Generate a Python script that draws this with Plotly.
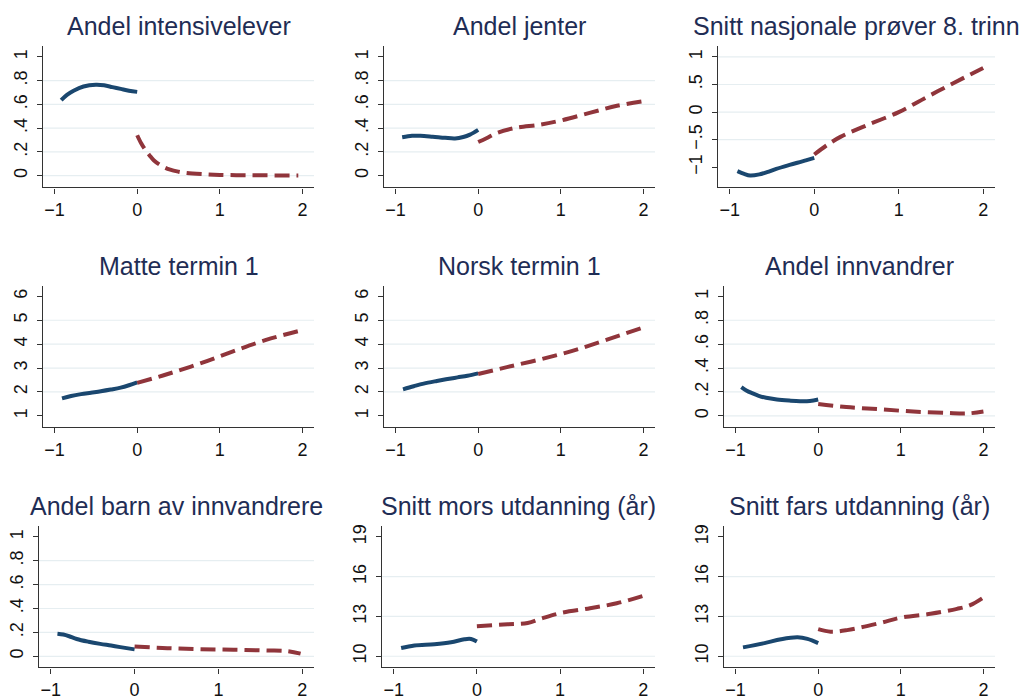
import plotly.graph_objects as go

W, H = 1022, 700

titles = ["Andel intensivelever", "Andel jenter", "Snitt nasjonale prøver 8. trinn",
          "Matte termin 1", "Norsk termin 1", "Andel innvandrer",
          "Andel barn av innvandrere", "Snitt mors utdanning (år)", "Snitt fars utdanning (år)"]

# ---- data ----
p1_x_pre = [-0.92, -0.85, -0.77, -0.65, -0.5, -0.4, -0.3, -0.2, -0.1, 0]
p1_y_pre = [0.635, 0.68, 0.715, 0.75, 0.765, 0.76, 0.745, 0.73, 0.715, 0.705]
p1_x_post = [0, 0.05, 0.1, 0.15, 0.2, 0.3, 0.4, 0.5, 0.6, 0.8, 1.0, 1.3, 1.6, 1.95]
p1_y_post = [0.34, 0.27, 0.215, 0.17, 0.13, 0.08, 0.05, 0.033, 0.022, 0.012, 0.006, 0.003, 0.002, 0.001]

p2_x_pre = [-0.92, -0.8, -0.7, -0.55, -0.4, -0.28, -0.18, -0.1, 0]
p2_y_pre = [0.323, 0.335, 0.336, 0.328, 0.318, 0.313, 0.325, 0.345, 0.385]
p2_x_post = [0, 0.1, 0.23, 0.44, 0.76, 1.0, 1.36, 1.68, 2.0]
p2_y_post = [0.283, 0.315, 0.36, 0.40, 0.43, 0.464, 0.53, 0.588, 0.627]

p3_x_pre = [-0.91, -0.83, -0.76, -0.65, -0.56, -0.45, -0.32, -0.2, -0.1, 0]
p3_y_pre = [-1.07, -1.12, -1.15, -1.13, -1.09, -1.03, -0.97, -0.92, -0.875, -0.83]
p3_x_post = [0, 0.15, 0.31, 0.62, 1.0, 1.33, 1.64, 2.0]
p3_y_post = [-0.77, -0.6, -0.45, -0.24, 0.0, 0.27, 0.52, 0.80]

p4_x_pre = [-0.91, -0.8, -0.68, -0.56, -0.44, -0.32, -0.2, -0.1, 0]
p4_y_pre = [1.73, 1.83, 1.91, 1.97, 2.03, 2.10, 2.18, 2.28, 2.40]
p4_x_post = [0, 0.36, 0.76, 1.16, 1.56, 2.0]
p4_y_post = [2.38, 2.74, 3.19, 3.70, 4.18, 4.59]

p5_x_pre = [-0.91, -0.78, -0.66, -0.5, -0.37, -0.25, -0.13, 0]
p5_y_pre = [2.11, 2.24, 2.35, 2.46, 2.54, 2.61, 2.68, 2.78]
p5_x_post = [0, 0.36, 0.76, 1.16, 1.56, 2.0]
p5_y_post = [2.75, 3.05, 3.37, 3.74, 4.19, 4.70]

p6_x_pre = [-0.93, -0.87, -0.8, -0.72, -0.63, -0.5, -0.35, -0.22, -0.1, 0]
p6_y_pre = [0.241, 0.213, 0.19, 0.168, 0.151, 0.137, 0.128, 0.123, 0.125, 0.137]
p6_x_post = [0, 0.34, 0.75, 1.15, 1.55, 1.8, 2.0]
p6_y_post = [0.10, 0.074, 0.055, 0.036, 0.025, 0.02, 0.036]

p7_x_pre = [-0.92, -0.85, -0.78, -0.69, -0.55, -0.41, -0.28, -0.17, 0]
p7_y_pre = [0.189, 0.182, 0.168, 0.145, 0.122, 0.104, 0.09, 0.077, 0.058]
p7_x_post = [0, 0.39, 0.78, 1.18, 1.58, 1.82, 1.98]
p7_y_post = [0.082, 0.068, 0.06, 0.055, 0.049, 0.044, 0.022]

p8_x_pre = [-0.91, -0.75, -0.51, -0.31, -0.15, -0.07, 0]
p8_y_pre = [10.62, 10.81, 10.91, 11.06, 11.28, 11.30, 11.11]
p8_x_post = [0, 0.37, 0.61, 0.77, 1.0, 1.36, 1.68, 2.0]
p8_y_post = [12.27, 12.41, 12.51, 12.83, 13.25, 13.62, 13.99, 14.56]

p9_x_pre = [-0.91, -0.65, -0.45, -0.25, -0.13, 0]
p9_y_pre = [10.67, 10.99, 11.28, 11.43, 11.31, 10.99]
p9_x_post = [0, 0.15, 0.35, 0.75, 1.0, 1.36, 1.68, 1.84, 2.0]
p9_y_post = [12.04, 11.85, 11.97, 12.51, 12.91, 13.2, 13.57, 13.85, 14.43]

x_ticks = [-1, 0, 1, 2]
x_ticklabels = ["\u22121", "0", "1", "2"]

share_ticks = [0, 0.2, 0.4, 0.6, 0.8, 1]
share_labels = ["0", ".2", ".4", ".6", ".8", "1"]
nat_ticks = [-1, -0.5, 0, 0.5, 1]
nat_labels = ["\u22121", "\u2212.5", "0", ".5", "1"]
grade_ticks = [1, 2, 3, 4, 5, 6]
grade_labels = ["1", "2", "3", "4", "5", "6"]
edu_ticks = [10, 13, 16, 19]
edu_labels = ["10", "13", "16", "19"]

grid_vals = [[0, .2, .4, .6, .8], [.2, .4, .6, .8], [-.5, 0, .5, 1],
             [2, 3, 4, 5], [2, 3, 4, 5], [0, .2, .4, .6, .8],
             [0, .2, .4, .6, .8], [10, 13, 16], [10, 13, 16]]

pre_x = [p1_x_pre, p2_x_pre, p3_x_pre, p4_x_pre, p5_x_pre, p6_x_pre, p7_x_pre, p8_x_pre, p9_x_pre]
pre_y = [p1_y_pre, p2_y_pre, p3_y_pre, p4_y_pre, p5_y_pre, p6_y_pre, p7_y_pre, p8_y_pre, p9_y_pre]
post_x = [p1_x_post, p2_x_post, p3_x_post, p4_x_post, p5_x_post, p6_x_post, p7_x_post, p8_x_post, p9_x_post]
post_y = [p1_y_post, p2_y_post, p3_y_post, p4_y_post, p5_y_post, p6_y_post, p7_y_post, p8_y_post, p9_y_post]

yticks = [(share_ticks, share_labels), (share_ticks, share_labels), (nat_ticks, nat_labels),
          (grade_ticks, grade_labels), (grade_ticks, grade_labels), (share_ticks, share_labels),
          (share_ticks, share_labels), (edu_ticks, edu_labels), (edu_ticks, edu_labels)]

# ---- layout geometry (pixels) ----
x_dom_px = [(43, 314), (384, 655), (718, 995),
            (43, 314), (384, 655), (724, 995),
            (39, 314), (382, 655), (724, 995)]
row_px = [(45, 189), (289, 433), (534, 678)]
y_ranges = [(-0.1, 1.09), (-0.1, 1.09), (-1.368, 1.196),
            (0.535, 6.45), (0.535, 6.45), (-0.093, 1.09),
            (-0.093, 1.09), (9.16, 19.81), (9.16, 19.81)]
x_range = (-1.14, 2.14)
title_y_px = [24, 269, 514]

BLUE = "#1a476f"
RED = "#90353b"
TITLE_C = "#1f2d55"
AX_C = "#333333"
GRID_C = "#e6eef1"
FONT = "Liberation Sans, Arial, sans-serif"

fig = go.Figure()
layout = dict(width=W, height=H, margin=dict(l=0, r=0, t=0, b=0),
              paper_bgcolor="white", plot_bgcolor="white", showlegend=False,
              font=dict(family=FONT, color="#111111"))
annotations = []
shapes = []

for i in range(9):
    r = i // 3
    n = i + 1
    xa = "x" if n == 1 else f"x{n}"
    ya = "y" if n == 1 else f"y{n}"
    xl, xr = x_dom_px[i]
    yt, yb = row_px[r]
    fig.add_trace(go.Scatter(x=pre_x[i], y=pre_y[i], mode="lines", xaxis=xa, yaxis=ya,
                             line=dict(color=BLUE, width=4, shape="spline", smoothing=1.0),
                             hoverinfo="skip"))
    fig.add_trace(go.Scatter(x=post_x[i], y=post_y[i], mode="lines", xaxis=xa, yaxis=ya,
                             line=dict(color=RED, width=4, dash="15px,7px", shape="spline", smoothing=1.0),
                             hoverinfo="skip"))
    layout["xaxis" if n == 1 else f"xaxis{n}"] = dict(
        domain=[xl / W, xr / W], anchor=ya, range=list(x_range),
        tickmode="array", tickvals=x_ticks, ticktext=x_ticklabels,
        showgrid=False, zeroline=False, showline=True, linecolor=AX_C, linewidth=1.2,
        ticks="outside", ticklen=5, tickcolor=AX_C, tickwidth=1.2,
        tickfont=dict(size=18, family=FONT, color="#111111"), ticklabelstandoff=1)
    tv, tt = yticks[i]
    layout["yaxis" if n == 1 else f"yaxis{n}"] = dict(
        domain=[1 - yb / H, 1 - yt / H], anchor=xa, range=list(y_ranges[i]),
        tickmode="array", tickvals=tv, ticktext=tt, tickangle=-90,
        showgrid=False, zeroline=False, showline=True, linecolor=AX_C, linewidth=1.2,
        ticks="outside", ticklen=5, tickcolor=AX_C, tickwidth=1.2,
        tickfont=dict(size=18, family=FONT, color="#111111"), ticklabelstandoff=3)
    for g in grid_vals[i]:
        shapes.append(dict(type="line", xref=f"{xa} domain", yref=ya, x0=0, x1=1, y0=g, y1=g,
                           line=dict(color=GRID_C, width=1.2), layer="below"))
    annotations.append(dict(text=titles[i], xref="paper", yref="paper",
                            x=(xl + xr) / 2 / W, y=1 - title_y_px[r] / H,
                            xanchor="center", yanchor="middle", showarrow=False,
                            font=dict(size=25, family=FONT, color=TITLE_C)))

layout["annotations"] = annotations
layout["shapes"] = shapes
fig.update_layout(**layout)
fig.write_html("out.html")
